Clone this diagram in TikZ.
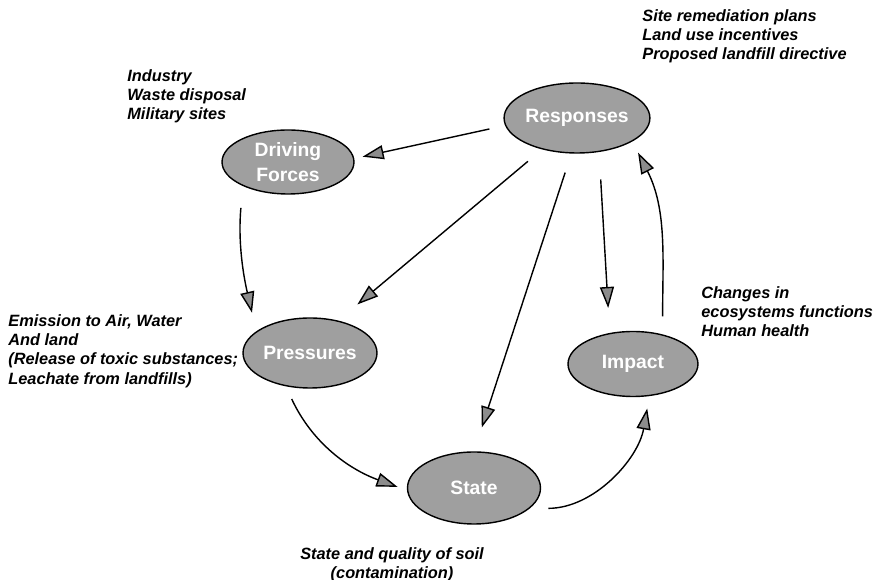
\documentclass[tikz,border=0pt]{standalone}
\usepackage{fontspec}
\setmainfont{Liberation Sans}
\usetikzlibrary{shapes.geometric,arrows.meta}

\begin{document}
\begin{tikzpicture}[x=0.02cm, y=-0.02cm,
  force/.style={ellipse, draw, line width=0.8pt, fill=gray!75, text=white,
    font=\fontsize{11}{14}\selectfont\bfseries, align=center, inner sep=0pt,
    minimum width=2.64cm, minimum height=1.36cm},
  note/.style={font=\fontsize{9.3}{11}\selectfont\bfseries\itshape,
    align=left, anchor=north west, inner sep=0pt},
  flow/.style={-{Triangle[length=12pt,width=8pt,fill=gray!90]}, line width=0.8pt}]

\useasboundingbox (0,0) rectangle (877,580);

% the five stages
\node[force, minimum height=1.28cm] (drv) at (288,162) {Driving\\Forces};
\node[force, minimum height=1.4cm] (resp) at (577,118) {Responses};
\node[force, minimum width=2.68cm, minimum height=1.4cm] (press) at (310,353) {Pressures};
\node[force, minimum width=2.66cm, minimum height=1.44cm] (state) at (474,488) {State};
\node[force, minimum width=2.6cm, minimum height=1.3cm] (imp) at (633,364) {Impact};

% notes
\node[note] (drvnote) at (127,69) {Industry\\Waste disposal\\Military sites};
\node[note] (respnote) at (642,9) {Site remediation plans\\Land use incentives\\Proposed landfill directive};
\node[note] (pressnote) at (8,314) {Emission to Air, Water\\And land\\(Release of toxic substances;\\Leachate from landfills)};
\node[note] (impnote) at (701,286) {Changes in\\ecosystems functions\\Human health};
\node[note, align=center, anchor=north] (statenote) at (392,547) {State and quality of soil\\(contamination)};

% responses
\draw[flow, shorten <=0.32cm, shorten >=0.17cm] (resp.186) -- (drv.3);
\draw[flow, shorten <=0.37cm, shorten >=0.5cm] (resp.222) -- (press.49);
\draw[flow, shorten <=0.4cm, shorten >=0.5cm] (resp.261) -- (state.90);
\draw[flow, shorten <=0.55cm, shorten >=0.5cm] (resp.303) -- (imp.127);

% the chain
\draw[flow, shorten <=0.44cm, shorten >=0.38cm] (drv.208) to[out=-95, in=103] (press.158);
\draw[flow, shorten <=0.28cm, shorten >=0.2cm] (press.234) to[out=-65, in=160] (state.182);
\draw[flow, shorten <=0.37cm, shorten >=0.25cm] (state.340) to[out=0, in=-100] (imp.297);
\draw[flow, shorten <=0.36cm, shorten >=0.25cm] (imp.45) to[out=90, in=-63] (resp.337);

\end{tikzpicture}
\end{document}
